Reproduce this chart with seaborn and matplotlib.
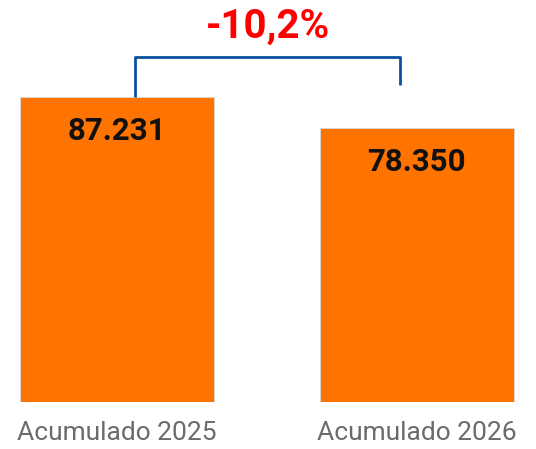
import matplotlib
matplotlib.use("Agg")
import matplotlib.pyplot as plt
import seaborn as sns
import pandas as pd

# data
categories = ["Acumulado 2025", "Acumulado 2026"]
values = [87231, 78350]

bar_color = "#FF7300"
bracket_color = "#0A4FA0"


def fmt_thousands(v):
    return f"{v:,.0f}".replace(",", ".")


def main():
    sns.set_theme(style="white")
    plt.rcParams["font.family"] = ["Roboto", "DejaVu Sans"]

    df = pd.DataFrame({"cat": categories, "val": values})

    fig = plt.figure(figsize=(5.36, 4.49), dpi=100)
    ax = fig.add_axes([0, 47 / 449, 1, 1 - 47 / 449])

    sns.barplot(data=df, x="cat", y="val", color=bar_color, width=0.647,
                saturation=1, edgecolor="#d9d9d9", linewidth=0.6, ax=ax)

    ax.set_xlim(-0.39, 1.397)
    ax.set_ylim(0, values[0] * 402 / 305)

    # value labels inside the top of each bar
    for i, v in enumerate(values):
        ax.annotate(fmt_thousands(v), xy=(i, v), xytext=(0, -34),
                    textcoords="offset pixels", ha="center", va="center",
                    fontsize=22.5, fontweight="bold", color="#111111")

    # bracket between the two bars
    top = values[0] * 1.131
    ax.plot([0.06, 0.06, 0.943, 0.943],
            [values[0], top, top, values[1] * 1.157],
            color=bracket_color, lw=2, solid_capstyle="butt", clip_on=False)

    change = (values[1] - values[0]) / values[0] * 100
    ax.text(0.503, values[0] * 1.23, f"{change:.1f}%".replace(".", ","),
            ha="center", va="center", fontsize=29, fontweight="bold",
            color="#FF0000")

    ax.set_xlabel("")
    ax.set_ylabel("")
    ax.set_yticks([])
    ax.tick_params(axis="x", length=0, pad=14, labelsize=19, labelcolor="#6b6b6b")
    sns.despine(ax=ax, left=True, bottom=True)

    fig.savefig("out.png", dpi=100)
    plt.close(fig)


if __name__ == "__main__":
    main()
